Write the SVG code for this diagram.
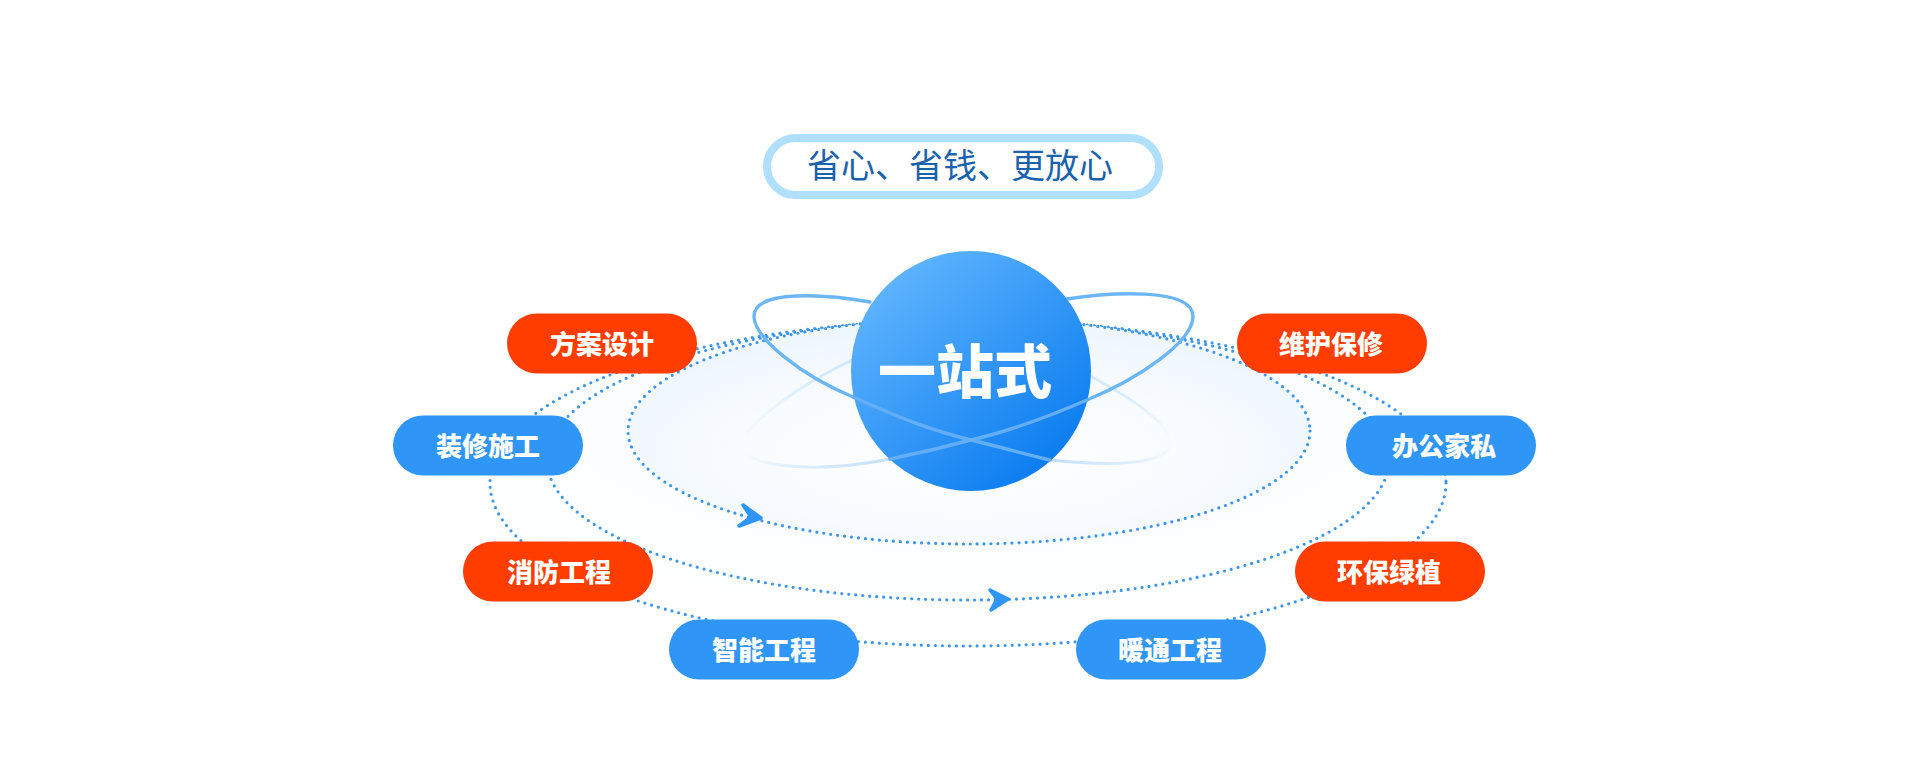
<svg xmlns="http://www.w3.org/2000/svg" width="1920" height="759" viewBox="0 0 1920 759">
<style>
.dot{fill:none;stroke:#3d96e8;stroke-width:3.2;stroke-linecap:round;stroke-dasharray:0 7}
.pill{stroke:none}
.o{fill:#ff3d00}.b{fill:#2f96f8}
.t{font-family:"Noto Sans CJK SC","Liberation Sans",sans-serif;font-weight:900;font-size:26px;fill:#fff;text-anchor:middle}
.orb{fill:none;stroke-linecap:round}
</style>
<defs>
<radialGradient id="gOuter" cx="0.5" cy="0.3" r="0.62"><stop offset="0" stop-color="#f6faff"/><stop offset="0.6" stop-color="#fbfdff"/><stop offset="1" stop-color="#ffffff"/></radialGradient>
<radialGradient id="gMid" cx="0.5" cy="0.35" r="0.62"><stop offset="0" stop-color="#f7fbff"/><stop offset="1" stop-color="#fdfeff"/></radialGradient>
<radialGradient id="gInner" cx="0.5" cy="0.6" r="0.58"><stop offset="0" stop-color="#fdfeff"/><stop offset="0.55" stop-color="#f9fcff"/><stop offset="1" stop-color="#eef6fe"/></radialGradient>
<linearGradient id="gBall" x1="0.15" y1="0.1" x2="0.85" y2="0.9"><stop offset="0" stop-color="#5fb4fd"/><stop offset="1" stop-color="#0a7cf0"/></linearGradient>
<linearGradient id="fadeR" gradientUnits="userSpaceOnUse" x1="1050" y1="0" x2="1172" y2="0"><stop offset="0" stop-color="#c4e0fa"/><stop offset="0.75" stop-color="#e2f0fd"/><stop offset="1" stop-color="#f8fbff"/></linearGradient>
<linearGradient id="fadeL" gradientUnits="userSpaceOnUse" x1="890" y1="0" x2="742" y2="0"><stop offset="0" stop-color="#c4e0fa"/><stop offset="0.7" stop-color="#e2f0fd"/><stop offset="1" stop-color="#f8fbff"/></linearGradient>
</defs>
<rect width="1920" height="759" fill="#ffffff"/>
<g id="connectors">
<ellipse class="dot" cx="968" cy="483" rx="478" ry="163" style="fill:url(#gOuter)"/>
<ellipse class="dot" cx="968" cy="460" rx="421" ry="140" style="fill:url(#gMid)"/>
<ellipse class="dot" cx="969" cy="431" rx="341" ry="113" style="fill:url(#gInner)"/>
<path class="orb" stroke="url(#fadeR)" stroke-width="3" d="M1090 376C1135 400 1170 425 1170 443C1170 462 1125 468 1050 460"/>
<path class="orb" stroke="url(#fadeL)" stroke-width="3" d="M852 360C800 385 742 425 742 447C742 465 810 475 890 459"/>
<path class="orb" stroke="#6cb6f5" stroke-width="3.4" d="M870 302C830 295 753 288 754 317C755 338 800 375 853 397"/>
<path class="orb" stroke="#6cb6f5" stroke-width="3.4" d="M1067 299C1105 293 1194 286 1193 317C1192 342 1140 378 1087 400"/>
<path d="M761 518L739 526L751 517L743 505Z" fill="#2f96f8" stroke="#2f96f8" stroke-width="3.500" stroke-linejoin="round"/>
<path d="M1008 599L991 610L997 599L990 590Z" fill="#2f96f8" stroke="#2f96f8" stroke-width="3.500" stroke-linejoin="round"/>
</g>
<g id="node-center">
<circle cx="971" cy="371" r="120" fill="url(#gBall)"/>
<path class="orb" stroke="#63aef6" stroke-width="3.4" d="M853 397C900 418 930 430 971 440C1000 447 1025 454 1050 460"/>
<path class="orb" stroke="#63aef6" stroke-width="3.4" d="M1087 400C1050 416 1010 431 971 440C945 447 915 454 890 459"/>
<text x="965" y="393" style="font-family:'Noto Sans CJK SC','Liberation Sans',sans-serif;font-weight:900;font-size:58px;fill:#fff;text-anchor:middle">一站式</text>
</g>
<g id="node-title">
<rect x="767" y="138" width="392" height="57" rx="28.5" fill="#fff" stroke="#b0e0fd" stroke-width="8"/>
<text x="960" y="177.500" style="font-family:'Noto Sans CJK SC','Liberation Sans',sans-serif;font-weight:400;font-size:34px;fill:#1a62ab;text-anchor:middle">省心、省钱、更放心</text>
</g>
<g id="node-fangan"><rect class="pill o" x="507" y="313.500" width="190" height="60" rx="30"/><text class="t" x="602" y="353.500">方案设计</text></g>
<g id="node-zhuangxiu"><rect class="pill b" x="393" y="415.500" width="190" height="60" rx="30"/><text class="t" x="488" y="455.500">装修施工</text></g>
<g id="node-xiaofang"><rect class="pill o" x="463" y="541.500" width="190" height="60" rx="30"/><text class="t" x="559" y="581.500">消防工程</text></g>
<g id="node-zhineng"><rect class="pill b" x="669" y="619.500" width="190" height="60" rx="30"/><text class="t" x="764" y="659.500">智能工程</text></g>
<g id="node-weihu"><rect class="pill o" x="1237" y="313.500" width="190" height="60" rx="30"/><text class="t" x="1331" y="353.500">维护保修</text></g>
<g id="node-bangong"><rect class="pill b" x="1346" y="415.500" width="190" height="60" rx="30"/><text class="t" x="1444" y="455.500">办公家私</text></g>
<g id="node-huanbao"><rect class="pill o" x="1295" y="541.500" width="190" height="60" rx="30"/><text class="t" x="1389" y="581.500">环保绿植</text></g>
<g id="node-nuantong"><rect class="pill b" x="1076" y="619.500" width="190" height="60" rx="30"/><text class="t" x="1170" y="659.500">暖通工程</text></g>
</svg>
